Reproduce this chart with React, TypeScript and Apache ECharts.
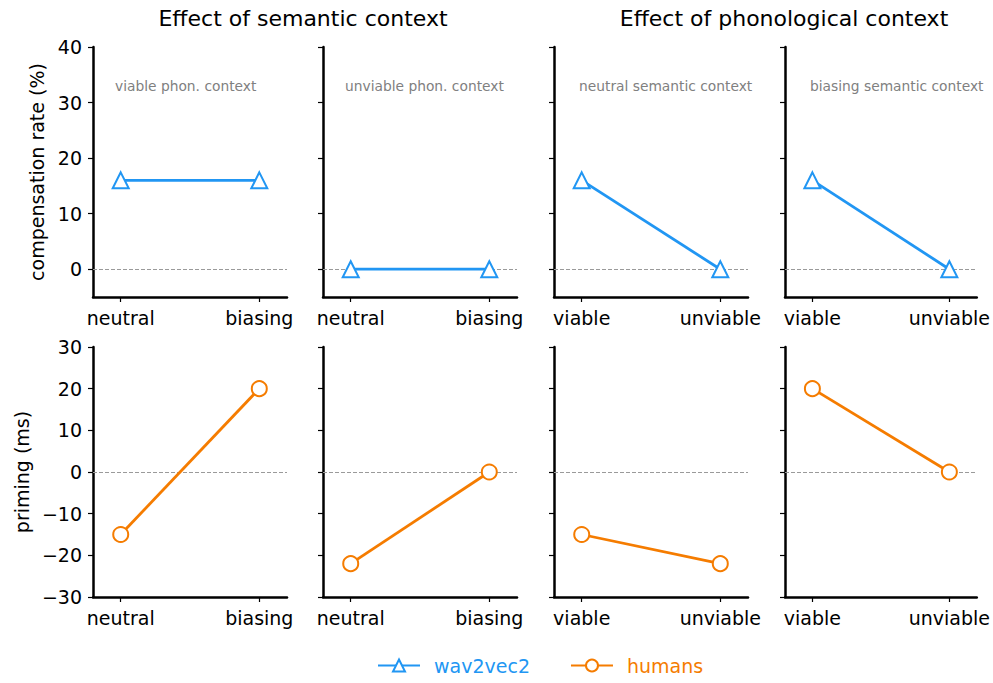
import React, { useEffect, useRef } from "react";
import * as echarts from "echarts";

const semanticCats = ["neutral", "biasing"];
const phonCats = ["viable", "unviable"];
const panelNotes = ["viable phon. context", "unviable phon. context", "neutral semantic context", "biasing semantic context"];
const wav2vecValues = [
  [16, 16],
  [0, 0],
  [16, 0],
  [16, 0],
];
const humanValues = [
  [-15, 20],
  [-22, 0],
  [-15, -22],
  [20, 0],
];
const topTicks = [0, 10, 20, 30, 40];
const bottomTicks = [-30, -20, -10, 0, 10, 20, 30];
const colTitles = ["Effect of semantic context", "Effect of phonological context"];

const BLUE = "#2196F3";
const ORANGE = "#F57C00";
const FONT = "DejaVu Sans";

export default function App() {
  const ref = useRef<HTMLDivElement>(null);
  useEffect(() => {
    if (!ref.current) return;
    const chart = echarts.init(ref.current, undefined, { renderer: "svg" });
    const lefts = [93, 323, 554, 785];
    const tops = [47, 347];
    const grids: any[] = [];
    const xAxes: any[] = [];
    const yAxes: any[] = [];
    const series: any[] = [];
    const fmtNum = (v: number) => (v < 0 ? "\u2212" + Math.abs(v) : String(v));
    for (let r = 0; r < 2; r++) {
      for (let c = 0; c < 4; c++) {
        const idx = r * 4 + c;
        const cats = c < 2 ? semanticCats : phonCats;
        grids.push({ left: lefts[c], top: tops[r], width: 194, height: 250 });
        xAxes.push({
          type: "value",
          gridIndex: idx,
          min: -0.2,
          max: 1.2,
          splitLine: { show: false },
          axisLine: { show: true, onZero: false, lineStyle: { color: "#000", width: 2.5 } },
          axisTick: { show: true, customValues: [0, 1], length: 5, lineStyle: { color: "#000", width: 1.2 } },
          axisLabel: {
            customValues: [0, 1],
            formatter: (v: number) => cats[Math.round(v)] ?? "",
            color: "#000",
            fontSize: 19,
            fontFamily: FONT,
            margin: 11,
          },
        });
        const ticks = r === 0 ? topTicks : bottomTicks;
        yAxes.push({
          type: "value",
          gridIndex: idx,
          min: r === 0 ? -5 : -30,
          max: r === 0 ? 40 : 30,
          splitLine: { show: false },
          axisLine: { show: true, onZero: false, lineStyle: { color: "#000", width: 2.5 } },
          axisTick: { show: true, customValues: ticks, length: 5, lineStyle: { color: "#000", width: 1.2 } },
          axisLabel: {
            show: c === 0,
            customValues: ticks,
            formatter: (v: number) => fmtNum(v),
            color: "#000",
            fontSize: 19,
            fontFamily: FONT,
            margin: 11,
          },
        });
        const vals = r === 0 ? wav2vecValues[c] : humanValues[c];
        series.push({
          type: "line",
          name: r === 0 ? "wav2vec2" : "humans",
          xAxisIndex: idx,
          yAxisIndex: idx,
          data: vals.map((v, i) => [i, v]),
          symbol: r === 0 ? "triangle" : "circle",
          symbolSize: r === 0 ? 16 : 15,
          showAllSymbol: true,
          lineStyle: { color: r === 0 ? BLUE : ORANGE, width: 2.8 },
          itemStyle: { color: "#fff", borderColor: r === 0 ? BLUE : ORANGE, borderWidth: 2 },
          z: 3,
          markLine: {
            silent: true,
            symbol: ["none", "none"],
            label: { show: false },
            lineStyle: { color: "#9a9a9a", width: 1, type: [4, 2] },
            data: [{ yAxis: 0 }],
            z: 1,
          },
        });
      }
    }
    const graphics: any[] = [];
    colTitles.forEach((t, i) => {
      graphics.push({
        type: "text",
        x: i === 0 ? 303 : 784,
        y: 18,
        style: { text: t, fontSize: 22, fontFamily: FONT, fill: "#000", textAlign: "center", textVerticalAlign: "middle" },
      });
    });
    panelNotes.forEach((t, c) => {
      graphics.push({
        type: "text",
        x: lefts[c] + (c < 2 ? 22 : 25),
        y: 86,
        style: { text: t, fontSize: 13.8, fontFamily: FONT, fill: "#808080", textAlign: "left", textVerticalAlign: "middle" },
      });
    });
    graphics.push({
      type: "text",
      x: 37,
      y: 172,
      rotation: Math.PI / 2,
      style: { text: "compensation rate (%)", fontSize: 19, fontFamily: FONT, fill: "#000", textAlign: "center", textVerticalAlign: "middle" },
    });
    graphics.push({
      type: "text",
      x: 22,
      y: 472,
      rotation: Math.PI / 2,
      style: { text: "priming (ms)", fontSize: 19, fontFamily: FONT, fill: "#000", textAlign: "center", textVerticalAlign: "middle" },
    });
    chart.setOption({
      animation: false,
      backgroundColor: "#fff",
      grid: grids,
      xAxis: xAxes,
      yAxis: yAxes,
      series,
      graphic: graphics,
      legend: {
        top: 656,
        left: 377,
        padding: 0,
        itemWidth: 42,
        itemHeight: 15,
        itemGap: 40,
        textStyle: { fontSize: 19, fontFamily: FONT, padding: [0, 0, 0, 9] },
        data: [
          { name: "wav2vec2", textStyle: { color: BLUE, fontSize: 19, fontFamily: FONT, padding: [0, 0, 0, 9] } },
          { name: "humans", textStyle: { color: ORANGE, fontSize: 19, fontFamily: FONT, padding: [0, 0, 0, 9] } },
        ],
      },
    });
    return () => chart.dispose();
  }, []);
  return <div ref={ref} style={{ position: "absolute", left: 0, top: 0, width: 993, height: 683 }} />;
}
